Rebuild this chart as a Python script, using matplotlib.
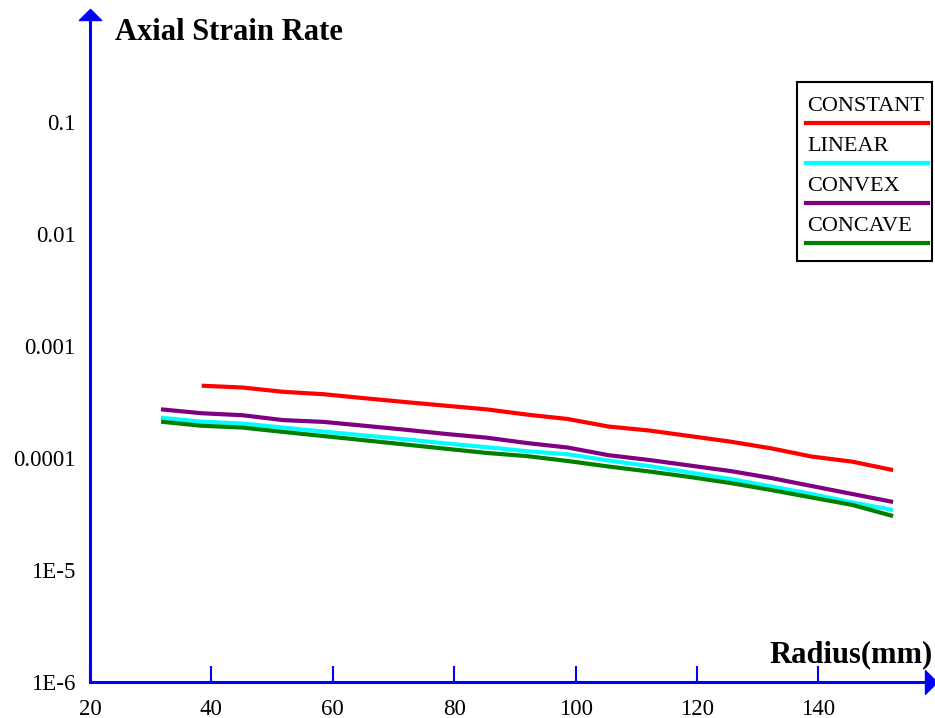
import numpy as np
import matplotlib.pyplot as plt
from matplotlib.path import Path
from matplotlib.patches import Rectangle
from matplotlib.lines import Line2D

plt.rcParams['font.family'] = ['Liberation Serif', 'DejaVu Serif']

# radius (mm) sample positions
radius = [31.7, 38.4, 45.1, 51.8, 58.5, 65.2, 71.9, 78.6, 85.3, 92.0,
          98.7, 105.4, 112.1, 118.8, 125.5, 132.2, 138.9, 145.6, 152.3]

# axial strain rate per profile
constant = [4.42e-4, 4.26e-4, 3.90e-4, 3.71e-4, 3.42e-4, 3.16e-4, 2.93e-4, 2.72e-4, 2.44e-4,
            2.23e-4, 1.91e-4, 1.76e-4, 1.57e-4, 1.40e-4, 1.22e-4, 1.03e-4, 9.27e-5, 7.8e-5]
linear = [2.29e-4, 2.11e-4, 2.03e-4, 1.87e-4, 1.72e-4, 1.59e-4, 1.47e-4, 1.35e-4, 1.25e-4, 1.15e-4,
          1.08e-4, 9.5e-5, 8.48e-5, 7.42e-5, 6.49e-5, 5.57e-5, 4.77e-5, 4.01e-5, 3.43e-5]
convex = [2.72e-4, 2.51e-4, 2.41e-4, 2.18e-4, 2.10e-4, 1.94e-4, 1.79e-4, 1.64e-4, 1.52e-4, 1.36e-4,
          1.24e-4, 1.06e-4, 9.6e-5, 8.57e-5, 7.65e-5, 6.63e-5, 5.62e-5, 4.77e-5, 4.05e-5]
concave = [2.11e-4, 1.94e-4, 1.87e-4, 1.71e-4, 1.57e-4, 1.44e-4, 1.32e-4, 1.21e-4, 1.11e-4, 1.04e-4,
           9.4e-5, 8.4e-5, 7.58e-5, 6.77e-5, 5.98e-5, 5.18e-5, 4.44e-5, 3.81e-5, 3.03e-5]

series = [
    ("CONSTANT", radius[1:], constant, "#ff0000"),
    ("LINEAR", radius, linear, "#00ffff"),
    ("CONVEX", radius, convex, "#800080"),
    ("CONCAVE", radius, concave, "#008000"),
]

x_ticks = [20, 40, 60, 80, 100, 120, 140]
y_ticks = [1e-6, 1e-5, 1e-4, 1e-3, 1e-2, 1e-1]
y_labels = ["1E-6", "1E-5", "0.0001", "0.001", "0.01", "0.1"]

W, H = 935, 718
fig = plt.figure(figsize=(W / 100, H / 100), dpi=100)
ax = fig.add_axes([90 / W, (H - 682) / H, (925 - 90) / W, (682 - 20) / H])

for name, x, y, c in series:
    ax.plot(x, y, color=c, lw=3, solid_capstyle='butt')

ax.set_yscale('log')
ax.set_xlim(20, 20 + 835 / 6.07)
ax.set_ylim(1e-6, 10 ** (-6 + 662 / 112))

ax.set_xticks(x_ticks)
ax.set_yticks(y_ticks)
ax.set_yticklabels(y_labels)
ax.minorticks_off()
ax.tick_params(axis='x', direction='in', length=11.5, width=1.5, color='blue',
               labelsize=16.5, pad=12)
ax.tick_params(axis='y', length=0, labelsize=16.5, pad=10.5)

for s in ['top', 'right']:
    ax.spines[s].set_visible(False)
for s in ['left', 'bottom']:
    ax.spines[s].set_color('blue')
    ax.spines[s].set_linewidth(2.2)

# arrowheads on both axes
up = Path([(-1, 0), (1, 0), (0, 1), (-1, 0)], [1, 2, 2, 79])
right = Path([(0, -1), (0, 1), (1, 0), (0, -1)], [1, 2, 2, 79])
ax.plot([0], [1], marker=up, ms=16, color='blue', transform=ax.transAxes, clip_on=False)
ax.plot([1], [0], marker=right, ms=17, color='blue', transform=ax.transAxes, clip_on=False)

fig.text(115 / W, 1 - 40 / H, "Axial Strain Rate", fontsize=22, fontweight='bold',
         va='baseline', ha='left')
fig.text(933 / W, 1 - 662 / H, "Radius(mm)", fontsize=22, fontweight='bold',
         va='baseline', ha='right')

# legend box: label above a line sample
fig.patches.append(Rectangle((797 / W, 1 - 261 / H), (932 - 797) / W, (261 - 82) / H,
                             transform=fig.transFigure, fill=False, ec='black', lw=1.5))
for i, (name, x, y, c) in enumerate(series):
    ty = 106.7 + 40 * i
    fig.text(807 / W, 1 - ty / H, name, fontsize=16, va='center', ha='left')
    fig.lines.append(Line2D([806 / W, 928 / W], [1 - (ty + 16.5) / H] * 2,
                            transform=fig.transFigure, color=c, lw=3))

fig.savefig('out.png', dpi=100)
